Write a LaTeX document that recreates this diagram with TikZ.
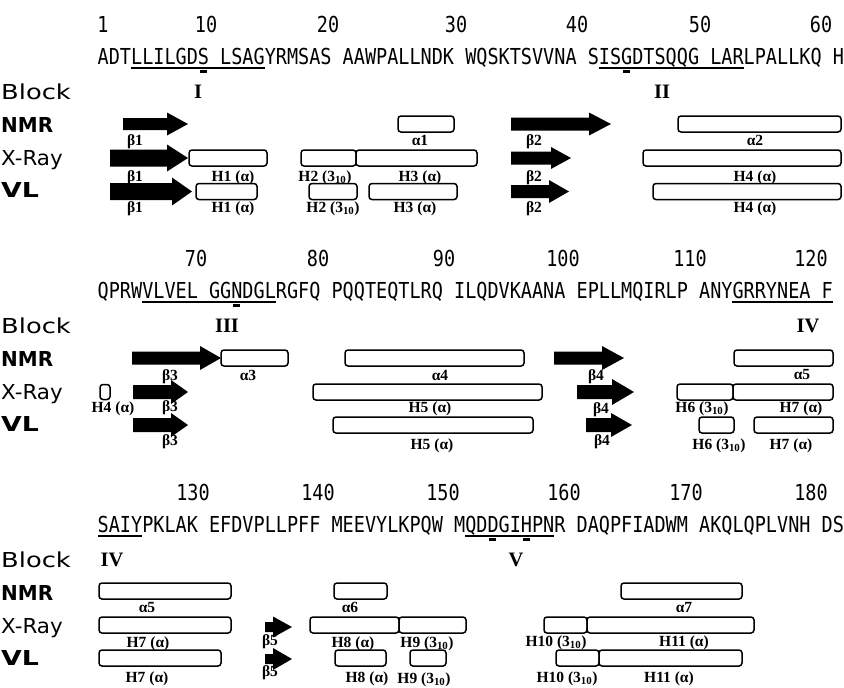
\documentclass[tikz,border=0pt]{standalone}
\usepackage{fontspec}
\usepackage{graphicx}
\setmainfont{Liberation Serif}
\newfontfamily\seqf[FakeStretch=0.841]{DejaVu Sans Mono}
\newfontfamily\lblf{DejaVu Sans}
\tikzset{
  seq/.style={inner sep=0pt, anchor=base west, font=\seqf\fontsize{22}{26}\selectfont},
  num/.style={inner sep=0pt, anchor=base, font=\seqf\fontsize{22}{26}\selectfont},
  rowlab/.style={inner sep=0pt, anchor=base west, font=\lblf\fontsize{20.6}{24}\selectfont},
  blk/.style={inner sep=0pt, anchor=base, font=\bfseries\fontsize{20.5}{24}\selectfont},
  hel/.style={draw, line width=1.5pt, rounded corners=3pt, minimum height=16pt, inner sep=0pt, fill=white},
  lab/.style={inner sep=0pt, anchor=base, font=\bfseries\fontsize{15.5}{17}\selectfont},
  ulst/.style={line width=1.2pt},
  dulst/.style={line width=2.2pt},
}
\newcommand{\xo}{97.5}
\newcommand{\pp}{11.14}
\newcommand{\seqline}[3]{\draw[ulst] ({\xo+#2*\pp},{68+#1}) -- ({\xo+(#3+1)*\pp},{68+#1});}
\newcommand{\seqmark}[2]{\draw[dulst] ({\xo+(#2+0.5)*\pp-3.5},{71.5+#1}) -- ({\xo+(#2+0.5)*\pp+3.5},{71.5+#1});}
\newcommand{\strand}[7]{%
  \fill (#2,{#4-#5}) -- ({#3-#7},{#4-#5}) -- ({#3-#7},{#4-#6}) -- (#3,#4) -- ({#3-#7},{#4+#6}) -- ({#3-#7},{#4+#5}) -- (#2,{#4+#5}) -- cycle;
  \coordinate (#1) at (#3,#4);}
\newcommand{\helix}[4]{\node[hel, minimum width={#3-#2}] (#1) at ({(#2+#3)/2},#4) {};}
\newcommand{\lab}[4]{\node[lab] (#1) at (#2,{#3+4.5}) {#4};}
\newcommand{\rlab}[4]{\node[rowlab] (#1) at (1,{#2+7.5}) {\scalebox{#3}[1]{#4}};}
\newcommand{\ten}{\textsubscript{10}}
\begin{document}
\begin{tikzpicture}[x=1pt,y=-1pt]
\fill[white] (0,0) rectangle (844,688);
\useasboundingbox (0,0) rectangle (844,688);

% ================= Band 1 =================
\node[num] (n1) at (103,32.5) {1};
\node[num] (n10) at (206,32.5) {10};
\node[num] (n20) at (328,32.5) {20};
\node[num] (n30) at (456,32.5) {30};
\node[num] (n40) at (577,32.5) {40};
\node[num] (n50) at (700,32.5) {50};
\node[num] (n60) at (821,32.5) {60};
\node[seq] (s1) at (\xo,64.5) {ADTLLILGDS LSAGYRMSAS AAWPALLNDK WQSKTSVVNA SISGDTSQQG LARLPALLKQ H};
\seqline{0}{3}{14}
\seqline{0}{45}{57}
\seqmark{0}{9}
\seqmark{0}{47}
\rlab{blockA}{92}{1.25}{Block}
\rlab{nmrA}{125}{0.97}{\bfseries NMR}
\rlab{xrayA}{158}{1.04}{X-Ray}
\rlab{vlA}{190}{1.3}{\bfseries VL}
\node[blk] (bI) at (198,98.5) {I};
\node[blk] (bII) at (662,98.5) {II};
% NMR
\strand{b1n}{123}{188}{124}{6}{11.5}{21}
\lab{lb1n}{135}{141}{β1}
\helix{a1}{398}{454}{124}
\lab{la1}{420}{141}{α1}
\strand{b2n}{511}{611}{124}{6.5}{11.5}{22}
\lab{lb2n}{534}{141}{β2}
\helix{a2}{678}{841}{124}
\lab{la2}{755}{141}{α2}
% X-Ray
\strand{b1x}{110}{188}{158}{8.5}{13.5}{21}
\lab{lb1x}{135}{177}{β1}
\helix{h1x}{189}{267}{158}
\lab{lh1x}{233}{177}{H1 (α)}
\helix{h2x}{301}{356}{158}
\lab{lh2x}{325}{177}{H2 (3\ten)}
\helix{h3x}{356}{477}{158}
\lab{lh3x}{420}{177}{H3 (α)}
\strand{b2x}{511}{571}{158}{6.5}{11}{20}
\lab{lb2x}{534}{177}{β2}
\helix{h4x}{643}{841}{158}
\lab{lh4x}{755}{177}{H4 (α)}
% VL
\strand{b1v}{110}{192}{191.5}{8.5}{14}{20}
\lab{lb1v}{135}{208}{β1}
\helix{h1v}{196}{257}{191.5}
\lab{lh1v}{233}{208}{H1 (α)}
\helix{h2v}{309}{357}{191.5}
\lab{lh2v}{333}{208}{H2 (3\ten)}
\helix{h3v}{369}{457}{191.5}
\lab{lh3v}{415}{208}{H3 (α)}
\strand{b2v}{511}{569}{191.5}{6.5}{11.5}{20}
\lab{lb2v}{534}{208}{β2}
\helix{h4v}{653}{841}{191.5}
\lab{lh4v}{755}{208}{H4 (α)}

% ================= Band 2 =================
\node[num] (n70) at (196,266.5) {70};
\node[num] (n80) at (318,266.5) {80};
\node[num] (n90) at (444,266.5) {90};
\node[num] (n100) at (563,266.5) {100};
\node[num] (n110) at (690,266.5) {110};
\node[num] (n120) at (811,266.5) {120};
\node[seq] (s2) at (\xo,298.5) {QPRWVLVEL GGNDGLRGFQ PQQTEQTLRQ ILQDVKAANA EPLLMQIRLP ANYGRRYNEA F};
\seqline{234}{4}{15}
\seqline{234}{57}{65}
\seqmark{234}{12}
\rlab{blockB}{326}{1.25}{Block}
\rlab{nmrB}{359}{0.97}{\bfseries NMR}
\rlab{xrayB}{392}{1.04}{X-Ray}
\rlab{vlB}{424}{1.3}{\bfseries VL}
\node[blk] (bIII) at (227,332.5) {III};
\node[blk] (bIVa) at (808,332.5) {IV};
% NMR
\strand{b3n}{132}{221}{358}{6.5}{12}{21}
\lab{lb3n}{170}{376}{β3}
\helix{a3}{221}{288}{358}
\lab{la3}{248}{376}{α3}
\helix{a4}{345}{524}{358}
\lab{la4}{440}{376}{α4}
\strand{b4n}{554}{624}{358}{6.5}{12}{22}
\lab{lb4n}{596}{376}{β4}
\helix{a5a}{734}{833}{358}
\lab{la5a}{802}{375}{α5}
% X-Ray
\node[hel, minimum width=10pt, minimum height=15pt] (h4x2) at (105,392) {};
\lab{lh4x2}{113}{408}{H4 (α)}
\strand{b3x}{133}{188}{392}{7}{12}{17}
\lab{lb3x}{170}{407}{β3}
\helix{h5x}{313}{542}{392}
\lab{lh5x}{430}{408}{H5 (α)}
\strand{b4x}{577}{634}{392}{7}{13}{22}
\lab{lb4x}{601}{409}{β4}
\helix{h6x}{677}{733}{392}
\lab{lh6x}{702}{408}{H6 (3\ten)}
\helix{h7x}{733}{833}{392}
\lab{lh7x}{801}{408}{H7 (α)}
% VL
\strand{b3v}{133}{188}{425}{7}{12}{17}
\lab{lb3v}{170}{441}{β3}
\helix{h5v}{333}{533}{425}
\lab{lh5v}{432}{445}{H5 (α)}
\strand{b4v}{586}{632}{425}{7}{12}{21}
\lab{lb4v}{602}{441}{β4}
\helix{h6v}{699}{734}{425}
\lab{lh6v}{719}{445}{H6 (3\ten)}
\helix{h7v}{754}{833}{425}
\lab{lh7v}{791}{445}{H7 (α)}

% ================= Band 3 =================
\node[num] (n130) at (193,500.5) {130};
\node[num] (n140) at (318,500.5) {140};
\node[num] (n150) at (443,500.5) {150};
\node[num] (n160) at (564,500.5) {160};
\node[num] (n170) at (686,500.5) {170};
\node[num] (n180) at (811,500.5) {180};
\node[seq] (s3) at (\xo,532.5) {SAIYPKLAK EFDVPLLPFF MEEVYLKPQW MQDDGIHPNR DAQPFIADWM AKQLQPLVNH DS};
\seqline{468}{0}{3}
\seqline{468}{33}{40}
\seqmark{468}{35}
\seqmark{468}{38}
\rlab{blockC}{560}{1.25}{Block}
\rlab{nmrC}{593}{0.97}{\bfseries NMR}
\rlab{xrayC}{626}{1.04}{X-Ray}
\rlab{vlC}{658}{1.3}{\bfseries VL}
\node[blk] (bIVb) at (112,566.5) {IV};
\node[blk] (bV) at (516,566.5) {V};
% NMR
\helix{a5b}{99}{231}{591}
\lab{la5b}{147}{608}{α5}
\helix{a6}{334}{387}{591}
\lab{la6}{350}{608}{α6}
\helix{a7}{621}{742}{591}
\lab{la7}{684}{608}{α7}
% X-Ray
\helix{h7x3}{99}{231}{625}
\lab{lh7x3}{148}{643}{H7 (α)}
\strand{b5x}{265}{292}{627}{5}{10.5}{19}
\lab{lb5x}{270}{641}{β5}
\helix{h8x}{310}{399}{625}
\lab{lh8x}{353}{643}{H8 (α)}
\helix{h9x}{399}{466}{625}
\lab{lh9x}{427}{643}{H9 (3\ten)}
\helix{h10x}{544}{587}{625}
\lab{lh10x}{556}{642}{H10 (3\ten)}
\helix{h11x}{587}{754}{625}
\lab{lh11x}{684}{642}{H11 (α)}
% VL
\helix{h7v3}{99}{221}{658}
\lab{lh7v3}{147}{678}{H7 (α)}
\strand{b5v}{265}{292}{659}{5}{11}{19}
\lab{lb5v}{270}{672}{β5}
\helix{h8v}{335}{386}{658}
\lab{lh8v}{367}{678}{H8 (α)}
\helix{h9v}{410}{446}{658}
\lab{lh9v}{424}{679}{H9 (3\ten)}
\helix{h10v}{556}{599}{658}
\lab{lh10v}{567}{678}{H10 (3\ten)}
\helix{h11v}{599}{742}{658}
\lab{lh11v}{669}{678}{H11 (α)}
\end{tikzpicture}
\end{document}
